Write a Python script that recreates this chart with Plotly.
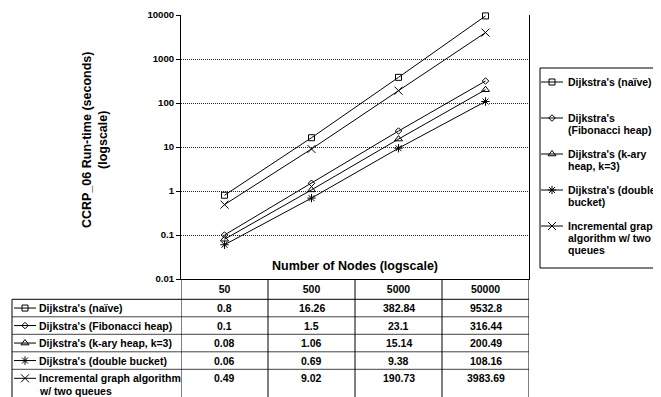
import plotly.graph_objects as go

# ---------------- data ----------------
nodes = ["50", "500", "5000", "50000"]
series_names = [
    "Dijkstra's (naïve)",
    "Dijkstra's (Fibonacci heap)",
    "Dijkstra's (k-ary heap, k=3)",
    "Dijkstra's (double bucket)",
    "Incremental graph algorithm w/ two queues",
]
naive = [0.8, 16.26, 382.84, 9532.8]
fibonacci = [0.1, 1.5, 23.1, 316.44]
kary = [0.08, 1.06, 15.14, 200.49]
double_bucket = [0.06, 0.69, 9.38, 108.16]
incremental = [0.49, 9.02, 190.73, 3983.69]
series_values = [naive, fibonacci, kary, double_bucket, incremental]

legend_labels = [
    "Dijkstra's (naïve)",
    "Dijkstra's<br>(Fibonacci heap)",
    "Dijkstra's (k-ary<br>heap, k=3)",
    "Dijkstra's (double<br>bucket)",
    "Incremental graph<br>algorithm w/ two<br>queues",
]
table_labels = [
    "Dijkstra's (naïve)",
    "Dijkstra's (Fibonacci heap)",
    "Dijkstra's (k-ary heap, k=3)",
    "Dijkstra's (double bucket)",
    "Incremental graph algorithm<br>w/ two queues",
]
y_tick_values = [0.01, 0.1, 1, 10, 100, 1000, 10000]
y_tick_labels = ["0.01", "0.1", "1", "10", "100", "1000", "10000"]
y_title = "CCRP_06 Run-time (seconds)<br>(logscale)"
x_title = "Number of Nodes (logscale)"

# ---------------- style / geometry ----------------
PAGE_W, PAGE_H = 661, 397
OFF = 8                                      # default body margin of the html page
W, H = PAGE_W - OFF, PAGE_H - OFF
PL, PR, PT, PB = 181, 529, 15, 279           # plot area, page px
FONT = "Liberation Sans, Arial, sans-serif"
symbols = ["square-open", "diamond-open", "triangle-up-open", "asterisk-open", "x-thin-open"]
sizes = [6, 5, 7, 7, 8]

BODY_TOP = 299.3
ROW_H = 17.5
TABLE_LEFT = 12
TABLE_LINE = 12.5
LEG_BOX = (540, 68, 658, 268)
LEG_FIRST = 82
LEG_STEP = 36
LEG_LINE = 12

fig = go.Figure()

# data series on the main (category x, log y) axes
for name, vals, sym, sz in zip(series_names, series_values, symbols, sizes):
    fig.add_trace(go.Scatter(
        x=nodes, y=vals, name=name, mode="lines+markers",
        line=dict(color="black", width=1),
        marker=dict(symbol=sym, size=sz, color="black", line=dict(color="black", width=1)),
        showlegend=False, xaxis="x", yaxis="y", cliponaxis=False,
    ))

annotations = []
shapes = []
for i, (sym, sz) in enumerate(zip(symbols, sizes)):
    ly = LEG_FIRST + i * LEG_STEP
    if i < 4:
        ty = BODY_TOP + ROW_H * (i + 0.5)
    else:
        ty = BODY_TOP + ROW_H * 4 + 9
    # key glyphs (legend box and table row headers) on a page-pixel overlay axis
    fig.add_trace(go.Scatter(
        x=[541, 563, None, 14, 36], y=[ly, ly, None, ty, ty], mode="lines",
        line=dict(color="black", width=1), showlegend=False, hoverinfo="skip",
        xaxis="x2", yaxis="y2",
    ))
    fig.add_trace(go.Scatter(
        x=[552, 25], y=[ly, ty], mode="markers",
        marker=dict(symbol=sym, size=sz, color="black", line=dict(color="black", width=1)),
        showlegend=False, hoverinfo="skip", xaxis="x2", yaxis="y2",
    ))
    for k, line in enumerate(legend_labels[i].split("<br>")):
        annotations.append(dict(
            x=566, y=ly + k * LEG_LINE, xref="x2", yref="y2", text=line,
            showarrow=False, xanchor="left", yanchor="middle",
            font=dict(family=FONT, size=10.5, color="black", weight="bold"),
        ))
    for k, line in enumerate(table_labels[i].split("<br>")):
        annotations.append(dict(
            x=37, y=ty + k * TABLE_LINE, xref="x2", yref="y2", text=line,
            showarrow=False, xanchor="left", yanchor="middle",
            font=dict(family=FONT, size=10.5, color="black", weight="bold"),
        ))
    for j, v in enumerate(series_values[i]):
        annotations.append(dict(
            x=j, y=ty, xref="x", yref="y2", text=str(v),
            showarrow=False, xanchor="center", yanchor="middle",
            font=dict(family=FONT, size=10.5, color="black", weight="bold"),
        ))

# axis titles
annotations.append(dict(
    x=95, y=140, xref="x2", yref="y2", text=y_title, textangle=-90,
    showarrow=False, xanchor="center", yanchor="middle",
    font=dict(family=FONT, size=12.5, color="black", weight="bold"),
))
annotations.append(dict(
    x=(PL + PR) / 2, y=266, xref="x2", yref="y2", text=x_title,
    showarrow=False, xanchor="center", yanchor="middle",
    font=dict(family=FONT, size=12.5, color="black", weight="bold"),
))

# table grid
for r in range(5):
    yy = BODY_TOP + r * ROW_H
    shapes.append(dict(type="line", xref="x2", yref="y2", x0=TABLE_LEFT, x1=PR, y0=yy, y1=yy,
                       line=dict(color="black" if r == 0 else "#444", width=1)))
shapes.append(dict(type="line", xref="x2", yref="y2", x0=TABLE_LEFT, x1=TABLE_LEFT,
                   y0=BODY_TOP, y1=PAGE_H + 2, line=dict(color="black", width=1)))
for b in range(len(nodes) + 1):
    shapes.append(dict(type="line", xref="x", yref="y2", x0=b - 0.5, x1=b - 0.5,
                       y0=PB, y1=PAGE_H + 2, line=dict(color="black", width=1)))
# legend box
shapes.append(dict(type="rect", xref="x2", yref="y2", x0=LEG_BOX[0], y0=LEG_BOX[1],
                   x1=LEG_BOX[2], y1=LEG_BOX[3], line=dict(color="black", width=1),
                   fillcolor="rgba(0,0,0,0)"))

fig.update_layout(
    width=W, height=H,
    margin=dict(l=0, r=0, t=0, b=0, pad=0),
    paper_bgcolor="white", plot_bgcolor="rgba(0,0,0,0)",
    showlegend=False,
    font=dict(family=FONT, color="black"),
    xaxis=dict(
        domain=[(PL - OFF) / W, (PR - OFF) / W], type="category", range=[-0.5, len(nodes) - 0.5],
        showgrid=False, zeroline=False, showline=True, linecolor="black", linewidth=1,
        ticks="", tickfont=dict(family=FONT, size=10.5, color="black", weight="bold"),
        automargin=False, fixedrange=True,
    ),
    yaxis=dict(
        domain=[1 - (PB - OFF) / H, 1 - (PT - OFF) / H], type="log", range=[-2, 4],
        tickvals=y_tick_values, ticktext=y_tick_labels,
        showgrid=True, gridcolor="#222", gridwidth=1, griddash="1px,1px",
        showline=True, linecolor="black", linewidth=1, mirror=True,
        ticks="outside", ticklen=4, tickcolor="black",
        tickfont=dict(family=FONT, size=9.6, color="black", weight="bold"),
        zeroline=False, automargin=False, fixedrange=True,
    ),
    xaxis2=dict(domain=[0, 1], range=[OFF, PAGE_W], visible=False, fixedrange=True, anchor="y2"),
    yaxis2=dict(domain=[0, 1], range=[PAGE_H, OFF], visible=False, fixedrange=True, anchor="x2"),
    annotations=annotations,
    shapes=shapes,
)

fig.write_html("out.html")
